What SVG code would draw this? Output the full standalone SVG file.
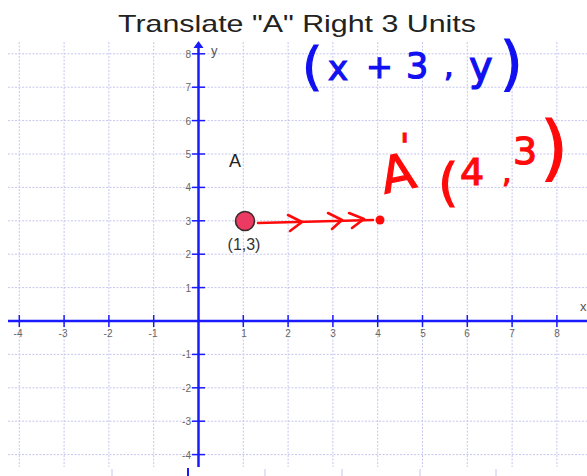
<svg xmlns="http://www.w3.org/2000/svg" width="587" height="476" viewBox="0 0 587 476">
<style>
.grid line{stroke:#c6c6f0;stroke-width:1;stroke-dasharray:2 1.5}
.axis{stroke:#1a1aff;stroke-width:2.5;fill:none}
.tick{stroke:#1a1aff;stroke-width:1.5}
.tl{font-family:"Liberation Sans",Arial,sans-serif;font-size:10px;fill:#666}
.tlx{text-anchor:middle}
.tly{text-anchor:end}
.blue{font-family:"DejaVu Sans",sans-serif;fill:#1010f0;stroke:#1010f0;stroke-width:1.2}
.red{font-family:"DejaVu Sans",sans-serif;fill:#ff0a0a;stroke:#ff0a0a;stroke-width:1.2}
.redline{stroke:#ff0a0a;stroke-width:2.6;fill:none;stroke-linecap:round;stroke-linejoin:round}
.faint{stroke:#c6c6f0;stroke-width:1}
</style>
<rect width="587" height="476" fill="#ffffff"/>

<g id="grid" class="grid">
  <line x1="19.3" y1="42" x2="19.3" y2="467"/>
  <line x1="64.1" y1="42" x2="64.1" y2="467"/>
  <line x1="108.9" y1="42" x2="108.9" y2="467"/>
  <line x1="153.7" y1="42" x2="153.7" y2="467"/>
  <line x1="243.3" y1="42" x2="243.3" y2="467"/>
  <line x1="288.1" y1="42" x2="288.1" y2="467"/>
  <line x1="332.9" y1="42" x2="332.9" y2="467"/>
  <line x1="377.7" y1="42" x2="377.7" y2="467"/>
  <line x1="422.5" y1="42" x2="422.5" y2="467"/>
  <line x1="467.3" y1="42" x2="467.3" y2="467"/>
  <line x1="512.1" y1="42" x2="512.1" y2="467"/>
  <line x1="556.9" y1="42" x2="556.9" y2="467"/>
  <line x1="8" y1="53.8" x2="587" y2="53.8"/>
  <line x1="8" y1="87.2" x2="587" y2="87.2"/>
  <line x1="8" y1="120.6" x2="587" y2="120.6"/>
  <line x1="8" y1="154" x2="587" y2="154"/>
  <line x1="8" y1="187.4" x2="587" y2="187.4"/>
  <line x1="8" y1="220.8" x2="587" y2="220.8"/>
  <line x1="8" y1="254.2" x2="587" y2="254.2"/>
  <line x1="8" y1="287.6" x2="587" y2="287.6"/>
  <line x1="8" y1="354.4" x2="587" y2="354.4"/>
  <line x1="8" y1="387.8" x2="587" y2="387.8"/>
  <line x1="8" y1="421.2" x2="587" y2="421.2"/>
  <line x1="8" y1="454.6" x2="587" y2="454.6"/>
</g>

<g id="bottom-marks">
  <line class="faint" x1="112" y1="469" x2="112" y2="476"/>
  <line class="faint" x1="265" y1="469" x2="265" y2="476"/>
  <line class="faint" x1="342" y1="469" x2="342" y2="476"/>
  <line class="faint" x1="420" y1="469" x2="420" y2="476"/>
  <line class="faint" x1="496" y1="469" x2="496" y2="476"/>
  <line x1="188" y1="468" x2="188" y2="476" stroke="#1a1aff" stroke-width="2"/>
</g>

<g id="axes">
  <line class="axis" x1="8" y1="321" x2="587" y2="321"/>
  <line class="axis" x1="198.5" y1="47" x2="198.5" y2="467"/>
  <polygon points="198.5,41 203.5,48 193.5,48" fill="#1a1aff"/>
  <g class="tick">
    <line x1="19.3" y1="315" x2="19.3" y2="327"/>
    <line x1="64.1" y1="315" x2="64.1" y2="327"/>
    <line x1="108.9" y1="315" x2="108.9" y2="327"/>
    <line x1="153.7" y1="315" x2="153.7" y2="327"/>
    <line x1="243.3" y1="315" x2="243.3" y2="327"/>
    <line x1="288.1" y1="315" x2="288.1" y2="327"/>
    <line x1="332.9" y1="315" x2="332.9" y2="327"/>
    <line x1="377.7" y1="315" x2="377.7" y2="327"/>
    <line x1="422.5" y1="315" x2="422.5" y2="327"/>
    <line x1="467.3" y1="315" x2="467.3" y2="327"/>
    <line x1="512.1" y1="315" x2="512.1" y2="327"/>
    <line x1="556.9" y1="315" x2="556.9" y2="327"/>
    <line x1="192" y1="53.8" x2="205" y2="53.8"/>
    <line x1="192" y1="87.2" x2="205" y2="87.2"/>
    <line x1="192" y1="120.6" x2="205" y2="120.6"/>
    <line x1="192" y1="154" x2="205" y2="154"/>
    <line x1="192" y1="187.4" x2="205" y2="187.4"/>
    <line x1="192" y1="220.8" x2="205" y2="220.8"/>
    <line x1="192" y1="254.2" x2="205" y2="254.2"/>
    <line x1="192" y1="287.6" x2="205" y2="287.6"/>
    <line x1="192" y1="354.4" x2="205" y2="354.4"/>
    <line x1="192" y1="387.8" x2="205" y2="387.8"/>
    <line x1="192" y1="421.2" x2="205" y2="421.2"/>
    <line x1="192" y1="454.6" x2="205" y2="454.6"/>
  </g>
  <g class="tl tlx">
    <text x="18" y="337">-4</text>
    <text x="63" y="337">-3</text>
    <text x="108" y="337">-2</text>
    <text x="153" y="337">-1</text>
    <text x="244" y="337">1</text>
    <text x="288" y="337">2</text>
    <text x="333" y="337">3</text>
    <text x="378" y="337">4</text>
    <text x="423" y="337">5</text>
    <text x="467" y="337">6</text>
    <text x="512" y="337">7</text>
    <text x="557" y="337">8</text>
  </g>
  <g class="tl tly">
    <text x="191" y="57.5">8</text>
    <text x="191" y="91">7</text>
    <text x="191" y="124.5">6</text>
    <text x="191" y="158">5</text>
    <text x="191" y="191">4</text>
    <text x="191" y="224.5">3</text>
    <text x="191" y="258">2</text>
    <text x="191" y="291.5">1</text>
    <text x="191" y="358">-1</text>
    <text x="191" y="391.5">-2</text>
    <text x="191" y="425">-3</text>
    <text x="191" y="458.5">-4</text>
  </g>
  <text x="211" y="55" style="font-family:'Liberation Sans',Arial,sans-serif;font-size:13px;fill:#555">y</text>
  <text x="580" y="311" style="font-family:'Liberation Sans',Arial,sans-serif;font-size:13px;fill:#555">x</text>
</g>

<g id="title">
  <text x="118" y="32" textLength="358" lengthAdjust="spacingAndGlyphs" style="font-family:'Liberation Sans',Arial,sans-serif;font-size:24px;fill:#222">Translate "A" Right 3 Units</text>
</g>

<g id="label-A">
  <text x="229" y="167" style="font-family:'Liberation Sans',Arial,sans-serif;font-size:18px;fill:#222">A</text>
</g>

<g id="point-A">
  <circle cx="245" cy="221" r="9.5" fill="#ec3a62" stroke="#3a2a2a" stroke-width="1.6"/>
  <text x="244" y="250" text-anchor="middle" style="font-family:'Liberation Sans',Arial,sans-serif;font-size:16px;fill:#333">(1,3)</text>
</g>

<g id="point-A-prime">
  <circle cx="380" cy="220" r="4.5" fill="#ff0a0a"/>
</g>

<g id="connectors">
  <path class="redline" d="M258,223 L373,220"/>
  <path class="redline" d="M288,215 L302,222 L290,231"/>
  <path class="redline" d="M328,213 L342,220 L332,229"/>
  <path class="redline" d="M349,213 L364,219 L352,228"/>
</g>

<g id="rule-blue">
  <text class="blue" x="302" y="84" font-size="52">(</text>
  <text class="blue" x="328" y="80" font-size="34">x</text>
  <text class="blue" x="366" y="78" font-size="32">+</text>
  <text class="blue" x="406" y="78" font-size="35">3</text>
  <text class="blue" x="444" y="76" font-size="30">,</text>
  <text class="blue" x="469" y="80" font-size="40">y</text>
  <text class="blue" x="500" y="84" font-size="58">)</text>
</g>

<g id="label-A-prime">
  <text class="red" x="380" y="190" font-size="50" transform="rotate(-12 400 170)">A</text>
  <text class="red" x="400" y="158" font-size="34">'</text>
  <text class="red" x="438" y="200" font-size="52">(</text>
  <text class="red" x="460" y="185" font-size="38">4</text>
  <text class="red" x="502" y="182" font-size="30">,</text>
  <text class="red" x="513" y="164" font-size="38">3</text>
  <text class="red" x="540" y="172" font-size="72">)</text>
</g>
</svg>
